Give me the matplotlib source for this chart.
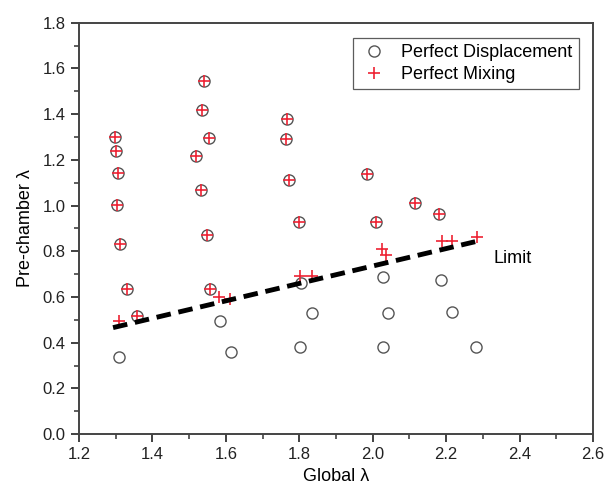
import numpy as np
import matplotlib
matplotlib.use('Agg')
import matplotlib.pyplot as plt
from matplotlib.ticker import MultipleLocator

plt.rcParams['font.family'] = ['Liberation Sans', 'DejaVu Sans']

# Perfect displacement (open circles)
disp_x = [1.299, 1.300, 1.306, 1.303, 1.312, 1.330, 1.358, 1.308,
          1.540, 1.535, 1.554, 1.520, 1.532, 1.548, 1.557, 1.584, 1.613,
          1.766, 1.763, 1.772, 1.799, 1.804, 1.836, 1.802,
          1.985, 2.008, 2.029, 2.041, 2.027,
          2.116, 2.181, 2.185, 2.216, 2.281]
disp_y = [1.302, 1.241, 1.143, 1.003, 0.831, 0.634, 0.515, 0.339,
          1.545, 1.418, 1.294, 1.218, 1.070, 0.871, 0.634, 0.494, 0.361,
          1.381, 1.291, 1.114, 0.929, 0.663, 0.531, 0.382,
          1.140, 0.927, 0.686, 0.531, 0.380,
          1.012, 0.964, 0.673, 0.534, 0.381]

# Perfect mixing (red plus)
mix_x = [1.299, 1.300, 1.306, 1.303, 1.312, 1.330, 1.358, 1.308,
         1.540, 1.535, 1.554, 1.520, 1.532, 1.548, 1.557, 1.582, 1.611,
         1.766, 1.763, 1.772, 1.799, 1.802, 1.834,
         1.985, 2.008, 2.024, 2.036,
         2.116, 2.181, 2.188, 2.215, 2.285]
mix_y = [1.302, 1.241, 1.143, 1.003, 0.831, 0.634, 0.515, 0.496,
         1.545, 1.418, 1.294, 1.218, 1.070, 0.871, 0.634, 0.599, 0.593,
         1.381, 1.291, 1.114, 0.929, 0.692, 0.692,
         1.140, 0.927, 0.809, 0.783,
         1.012, 0.964, 0.847, 0.847, 0.864]

# limit line end points
limit_x = [1.293, 2.279]
limit_y = [0.466, 0.842]

fig = plt.figure(figsize=(6.07, 4.95), dpi=100)
ax = fig.add_axes([0.130, 0.123, 0.847, 0.831])

ax.plot(disp_x, disp_y, 'o', ms=8, mfc='none', mec='#555555', mew=1.0,
        label='Perfect Displacement', zorder=2)
ax.plot(mix_x, mix_y, '+', ms=9, color='#ee2233', mew=1.2,
        label='Perfect Mixing', zorder=3)
ax.plot(limit_x, limit_y, color='black', lw=3.5, ls=(0, (3, 1.6)), zorder=4)
ax.text(2.328, 0.77, 'Limit', fontsize=13, va='center', ha='left')

ax.set_xlim(1.2, 2.6)
ax.set_ylim(0.0, 1.8)
ax.xaxis.set_major_locator(MultipleLocator(0.2))
ax.xaxis.set_minor_locator(MultipleLocator(0.1))
ax.yaxis.set_major_locator(MultipleLocator(0.2))
ax.yaxis.set_minor_locator(MultipleLocator(0.1))
ax.tick_params(which='major', direction='out', length=6, width=1.3,
               labelsize=12, colors='#333333', labelcolor='#222222')
ax.tick_params(which='minor', direction='out', length=3.5, width=1.1,
               colors='#333333')
ax.xaxis.set_major_formatter(plt.FormatStrFormatter('%.1f'))
ax.yaxis.set_major_formatter(plt.FormatStrFormatter('%.1f'))
for s in ax.spines.values():
    s.set_linewidth(1.4)
    s.set_color('#444444')

ax.set_xlabel('Global λ', fontsize=13, labelpad=4)
ax.set_ylabel('Pre-chamber λ', fontsize=13, labelpad=6)

leg = ax.legend(loc='upper right', bbox_to_anchor=(0.972, 0.963), fontsize=13,
                frameon=True, fancybox=False, borderpad=0.35, handlelength=1.6,
                labelspacing=0.25, handletextpad=0.7, borderaxespad=0.0)
leg.get_frame().set_edgecolor('#333333')
leg.get_frame().set_linewidth(0.9)

fig.savefig('out.png', dpi=100)
